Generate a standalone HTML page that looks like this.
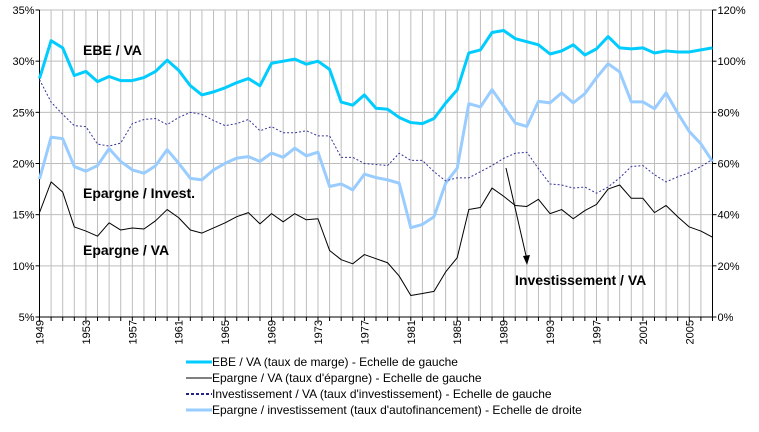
<!DOCTYPE html>
<html><head><meta charset="utf-8"><style>
body{margin:0;background:#fff;width:759px;height:427px;overflow:hidden}
svg{font-family:"Liberation Sans",Arial,sans-serif}
</style></head><body>
<svg id="c" width="759" height="427"></svg>
<script>
const years=[];for(let y=1949;y<=2007;y++)years.push(y);
const ebe=[28.3,32.0,31.3,28.6,29.0,28.0,28.5,28.1,28.1,28.4,29.0,30.1,29.1,27.6,26.7,27.0,27.4,27.9,28.3,27.6,29.8,30.0,30.2,29.7,30.0,29.2,26.0,25.7,26.7,25.4,25.3,24.5,24.0,23.9,24.4,25.9,27.2,30.8,31.1,32.8,33.0,32.2,31.9,31.6,30.7,31.0,31.6,30.6,31.2,32.4,31.3,31.2,31.3,30.8,31.0,30.9,30.9,31.1,31.3];
const epargne=[15.2,18.2,17.2,13.8,13.4,12.9,14.2,13.5,13.7,13.6,14.4,15.5,14.7,13.5,13.2,13.7,14.2,14.8,15.2,14.1,15.1,14.3,15.1,14.5,14.6,11.5,10.6,10.2,11.1,10.7,10.3,9.0,7.1,7.3,7.5,9.4,10.8,15.5,15.7,17.6,16.8,15.9,15.8,16.5,15.1,15.5,14.6,15.4,16.0,17.5,17.9,16.6,16.6,15.2,15.9,14.8,13.8,13.4,12.8];
const invest=[28.2,26.0,24.8,23.7,23.6,21.9,21.7,22.0,23.9,24.3,24.4,23.8,24.5,25.0,24.8,24.2,23.7,23.9,24.3,23.2,23.6,23.0,23.0,23.2,22.7,22.7,20.6,20.6,20.0,19.9,19.8,21.0,20.3,20.3,19.2,18.3,18.6,18.6,19.2,19.8,20.5,21.0,21.1,19.5,18.0,17.9,17.6,17.7,17.1,17.7,18.6,19.7,19.8,18.9,18.2,18.7,19.1,19.7,20.4];
const autofin=[53.9,70.3,69.7,58.8,57.0,59.2,65.8,60.8,57.5,56.2,59.1,65.4,60.1,54.2,53.6,57.5,60.1,62.1,62.7,60.8,64.1,62.4,66.0,63.0,64.4,51.0,52.0,49.7,55.8,54.5,53.6,52.3,34.9,36.2,39.2,52.3,58.2,83.4,82.1,88.9,82.4,75.8,74.5,84.3,83.7,87.6,83.7,87.3,93.5,99.0,95.8,84.1,84.1,81.4,87.6,79.7,72.5,67.7,60.8];
const leftTicks=[5,10,15,20,25,30,35];
const rightTicks=[0,20,40,60,80,100,120];

const NS="http://www.w3.org/2000/svg",svg=document.getElementById('c');
const X0=39.5,X1=712.5,Y0=317,Y1=10;
const x=i=>X0+(X1-X0)*i/(years.length-1);
const yl=v=>Y0-(v-5)/30*(Y0-Y1);
const yr=v=>Y0-v/120*(Y0-Y1);
function el(t,a,p){const e=document.createElementNS(NS,t);for(const k in a)e.setAttribute(k,a[k]);(p||svg).appendChild(e);return e;}
const grid=el('g',{});


years.forEach((y,i)=>{if(i>0)el('line',{x1:x(i),x2:x(i),y1:Y1,y2:Y0,stroke:'#bdbdbd','stroke-width':1},grid);});
leftTicks.forEach(v=>{el('line',{x1:X0,x2:X1,y1:yl(v),y2:yl(v),stroke:'#bdbdbd','stroke-width':1},grid);});
const ax=el('g',{});


el('line',{x1:X0,x2:X0,y1:Y1,y2:Y0,stroke:'#000'},ax);
el('line',{x1:X1,x2:X1,y1:Y1,y2:Y0,stroke:'#000'},ax);
el('line',{x1:X0,x2:X1,y1:Y0,y2:Y0,stroke:'#000'},ax);
leftTicks.forEach(v=>{el('line',{x1:X0-4,x2:X0,y1:yl(v),y2:yl(v),stroke:'#000'},ax);
 const t=el('text',{x:X0-5,y:yl(v)+4,'font-size':11,'text-anchor':'end'},ax);t.textContent=v+'%';
 
 });
rightTicks.forEach(v=>{el('line',{x1:X1,x2:X1+4,y1:yr(v),y2:yr(v),stroke:'#000'},ax);
 const t=el('text',{x:X1+5,y:yr(v)+4,'font-size':11},ax);t.textContent=v+'%';
 
 });
years.forEach((y,i)=>{el('line',{x1:x(i),x2:x(i),y1:Y0,y2:Y0+4,stroke:'#000'},ax);
 if((y-1949)%4===0){const t=el('text',{transform:`translate(${x(i)+4},${Y0+3}) rotate(-90)`,'font-size':11,'text-anchor':'end'},ax);t.textContent=y;
 
 }});
function line(data,f,st,name){const p=el('polyline',Object.assign({points:data.map((v,i)=>x(i)+','+f(v)).join(' '),fill:'none','stroke-linejoin':'round'},st));
 
 }
line(autofin,yr,{stroke:'#99ccff','stroke-width':3},'autofinancement-line');
line(invest,yl,{stroke:'#33339a','stroke-width':1,'stroke-dasharray':'2,2'},'investissement-line');
line(epargne,yl,{stroke:'#000','stroke-width':1},'epargne-line');
line(ebe,yl,{stroke:'#00ccff','stroke-width':3},'ebe-line');
function lab(tx,px,py,name){const t=el('text',{x:px,y:py,'font-size':14,'font-weight':'bold'});t.textContent=tx;
 
 }
lab('EBE / VA',83,55,'ebe-label');
lab('Epargne / Invest.',83,198,'epargne-invest-label');
lab('Epargne / VA',83,255,'epargne-va-label');
lab('Investissement / VA',515,285,'investissement-label');
const ar=el('g',{});


el('line',{x1:506,y1:168,x2:527,y2:260,stroke:'#000','stroke-width':1},ar);
el('polygon',{points:'527,265 523,256 530,255',fill:'#000'},ar);
const leg=[['EBE / VA (taux de marge) - Echelle de gauche',{stroke:'#00ccff','stroke-width':3}],
['Epargne / VA (taux d\'épargne) - Echelle de gauche',{stroke:'#000','stroke-width':1}],
['Investissement / VA (taux d\'investissement) - Echelle de gauche',{stroke:'#22228a','stroke-width':2,'stroke-dasharray':'3,2'}],
['Epargne / investissement (taux d\'autofinancement) - Echelle de droite',{stroke:'#99ccff','stroke-width':3}]];
leg.forEach((l,i)=>{const g=el('g',{});
 
 
 const yy=362+i*16;
 el('line',Object.assign({x1:186,x2:212,y1:yy,y2:yy},l[1]),g);
 const t=el('text',{x:212,y:yy+4,'font-size':12},g);t.textContent=l[0];});
</script>
</body></html>
